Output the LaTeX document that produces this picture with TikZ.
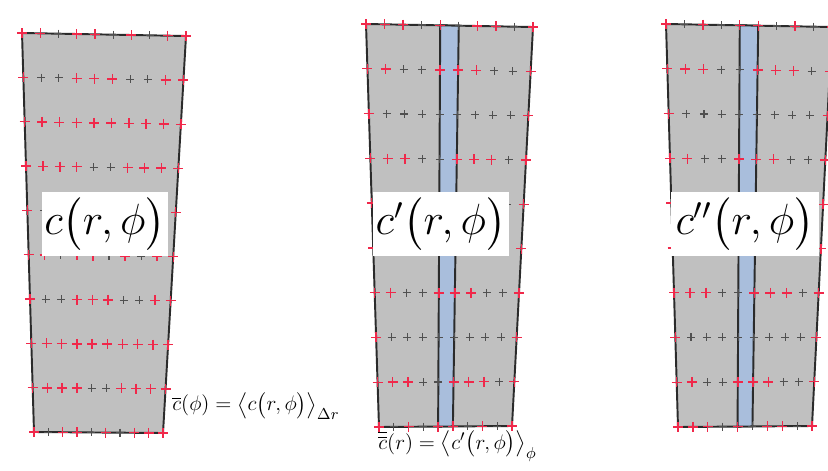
\documentclass[tikz,border=0pt]{standalone}
\usepackage{amsmath,amssymb}
\usepackage{xcolor}
\usepackage{tikz}
\usetikzlibrary{calc, positioning}
\definecolor{grayA}{HTML}{C0C0C0}
\definecolor{grayB}{HTML}{2B2B2B}
\definecolor{grayC}{HTML}{505050}
\definecolor{blueA}{HTML}{A9BEDC}
\definecolor{redA}{HTML}{F0284A}
\tikzset{
  panel/.style={draw=grayB, fill=grayA, line width=1.1pt, line join=round},
  strip/.style={draw=grayB, fill=blueA, line width=1.1pt},
  crossred/.style={draw=redA, line width=0.8pt},
  crossgray/.style={draw=grayC, line width=0.6pt},
  lbl/.style={fill=white, inner sep=0pt, font=\fontsize{25}{28}\selectfont},
  eq/.style={inner sep=0pt, font=\fontsize{12.5}{14}\selectfont}
}

\begin{document}
\begin{tikzpicture}[x=0.02cm, y=-0.02cm]
  \fill[white] (0,0) rectangle (828,470);
  \useasboundingbox (0,0) rectangle (828,470);

  % corners of the three sectors
  \coordinate (pa-tl) at (22,33);  \coordinate (pa-tr) at (186,36);
  \coordinate (pa-bl) at (34,432); \coordinate (pa-br) at (163,433);
  \coordinate (pb-tl) at (366,24); \coordinate (pb-tr) at (533,27);
  \coordinate (pb-bl) at (379,427); \coordinate (pb-br) at (512,426);
  \coordinate (pc-tl) at (666,24); \coordinate (pc-tr) at (832,27);
  \coordinate (pc-bl) at (678,427); \coordinate (pc-br) at (812,426);

  \foreach \p in {pa,pb,pc}
    \draw[panel] (\p-tl) -- (\p-tr) -- (\p-br) -- (\p-bl) -- cycle;

  % averaging strip
  \foreach \p in {pb,pc}
    \draw[strip] ($(\p-tl)!4/9!(\p-tr)$) -- ($(\p-tl)!5/9!(\p-tr)$)
      -- ($(\p-bl)!5/9!(\p-br)$) -- ($(\p-bl)!4/9!(\p-br)$) -- cycle;

  % grid points
  \foreach \p/\k in {pa/0,pb/1,pc/2}{
    \foreach \j in {0,...,9}{
      \pgfmathsetmacro\t{\j/9}
      \coordinate (L) at ($(\p-tl)!\t!(\p-bl)$);
      \coordinate (R) at ($(\p-tr)!\t!(\p-br)$);
      \foreach \i in {0,...,9}{
        \pgfmathsetmacro\s{\i/9}
        \pgfmathtruncatemacro\g{mod(3*\i+7*\j+\i*\j+\k,5)}
        \def\cc{crossred}\def\cs{5}
        \ifnum\i>0 \ifnum\i<9 \ifnum\g<2 \def\cc{crossgray}\def\cs{4}\fi\fi\fi
        \draw[\cc] ($(L)!\s!(R)$) +(-\cs,0) -- +(\cs,0) +(0,-\cs) -- +(0,\cs);
      }
    }
  }

  \node[lbl, minimum width=2.52cm, minimum height=1.3cm] (lbla) at (105,224)
    {$c\bigl(r,\phi\bigr)$};
  \node[lbl, minimum width=2.72cm, minimum height=1.28cm] (lblb) at (441,224)
    {$c'\bigl(r,\phi\bigr)$};
  \node[lbl, minimum width=2.96cm, minimum height=1.28cm] (lblc) at (745,224)
    {$c''\bigl(r,\phi\bigr)$};

  \node[eq, anchor=west] (eqa) at (172,406)
    {$\overline{c}(\phi)=\bigl\langle c\bigl(r,\phi\bigr)\bigr\rangle_{\Delta r}$};
  \node[eq, anchor=west] (eqb) at (378,446)
    {$\overline{\overline{c}}(r)=\bigl\langle c'\bigl(r,\phi\bigr)\bigr\rangle_{\phi}$};
\end{tikzpicture}
\end{document}
